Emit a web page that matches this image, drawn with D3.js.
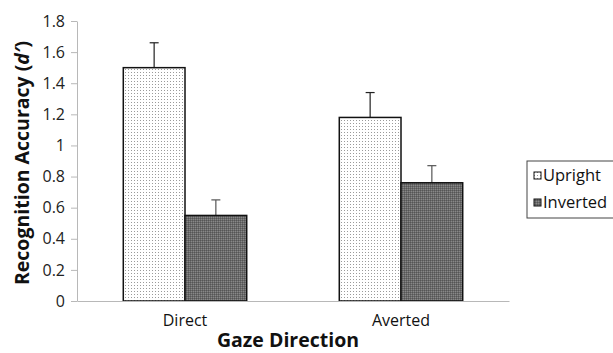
<!DOCTYPE html>
<html>
<head>
<meta charset="utf-8">
<script src="https://cdn.jsdelivr.net/npm/d3@7"></script>
<style>
  body { margin: 0; background: #fff; }
  text { font-family: "Open Sans", sans-serif; }
</style>
</head>
<body>
<svg id="bar-chart" width="613" height="353"></svg>
<script>
// data
const categories = ["Direct", "Averted"];
const seriesNames = ["Upright", "Inverted"];
const uprightValues = [1.50, 1.18];
const invertedValues = [0.55, 0.76];
const uprightErrors = [0.16, 0.16];
const invertedErrors = [0.10, 0.11];
const yTicks = [0, 0.2, 0.4, 0.6, 0.8, 1, 1.2, 1.4, 1.6, 1.8];

var svg = d3.select("svg#bar-chart");
var margin = { top: 21, right: 104, bottom: 52, left: 77 };
var width = +svg.attr("width") - margin.left - margin.right;
var height = +svg.attr("height") - margin.top - margin.bottom;

// patterns
var defs = svg.append("defs");
var pu = defs.append("pattern").attr("id", "dots-light")
    .attr("width", 3).attr("height", 3).attr("patternUnits", "userSpaceOnUse");
pu.append("rect").attr("width", 3).attr("height", 3).attr("fill", "#fff");
pu.append("rect").attr("width", 1).attr("height", 1).attr("fill", "#9a9a9a");

var pi = defs.append("pattern").attr("id", "dots-dark")
    .attr("width", 2).attr("height", 2).attr("patternUnits", "userSpaceOnUse");
pi.append("rect").attr("width", 2).attr("height", 2).attr("fill", "#6a6a6a");
pi.append("rect").attr("width", 1).attr("height", 1).attr("fill", "#888");
pi.append("rect").attr("x", 1).attr("y", 1).attr("width", 1).attr("height", 1).attr("fill", "#555");

var fills = ["url(#dots-light)", "url(#dots-dark)"];
var errColors = ["#222", "#555"];

var g = svg.append("g").attr("transform", "translate(" + margin.left + "," + margin.top + ")");

var x = d3.scaleBand().domain(categories).range([0, width]);
var inner = d3.scaleBand().domain(seriesNames).range([0, x.bandwidth()])
    .paddingInner(0).paddingOuter(0.75);
var y = d3.scaleLinear().domain([0, 1.8]).range([height, 0]);

// Y axis
var yAxis = g.append("g")
    .call(d3.axisLeft(y).tickValues(yTicks).tickSize(6).tickSizeOuter(0).tickPadding(6)
        .tickFormat(d3.format("~g")));
yAxis.select(".domain").attr("stroke", "#b8b8b8");
yAxis.selectAll(".tick line").attr("stroke", "#b8b8b8");
yAxis.selectAll(".tick text").attr("font-size", 16).attr("fill", "#222")
    .attr("font-family", "'Open Sans', sans-serif");

// rows of data
var rows = categories.map((c, i) => [
    { cat: c, s: seriesNames[0], v: uprightValues[i], e: uprightErrors[i], k: 0 },
    { cat: c, s: seriesNames[1], v: invertedValues[i], e: invertedErrors[i], k: 1 }
]).flat();

// error bars (drawn first, bar tops cover the stem base)
var eb = g.selectAll(".err").data(rows).enter().append("g").attr("class", "err")
    .attr("stroke", (d) => errColors[d.k]).attr("stroke-width", 1.2);
eb.append("line")
    .attr("x1", (d) => x(d.cat) + inner(d.s) + inner.bandwidth() / 2)
    .attr("x2", (d) => x(d.cat) + inner(d.s) + inner.bandwidth() / 2)
    .attr("y1", (d) => y(d.v))
    .attr("y2", (d) => y(d.v + d.e));
eb.append("line")
    .attr("x1", (d) => x(d.cat) + inner(d.s) + inner.bandwidth() / 2 - 4.5)
    .attr("x2", (d) => x(d.cat) + inner(d.s) + inner.bandwidth() / 2 + 4.5)
    .attr("y1", (d) => y(d.v + d.e))
    .attr("y2", (d) => y(d.v + d.e));

// bars
g.selectAll(".bar").data(rows).enter().append("rect").attr("class", "bar")
    .attr("x", (d) => x(d.cat) + inner(d.s))
    .attr("y", (d) => y(d.v))
    .attr("width", inner.bandwidth())
    .attr("height", (d) => height - y(d.v))
    .attr("fill", (d) => fills[d.k])
    .attr("stroke", "#111").attr("stroke-width", 1.5);

// X axis
var xAxis = g.append("g")
    .attr("transform", "translate(0," + height + ")")
    .call(d3.axisBottom(x).tickSize(0).tickPadding(14));
xAxis.select(".domain").attr("stroke", "#b8b8b8");
xAxis.selectAll(".tick text").attr("font-size", 16).attr("fill", "#111")
    .attr("font-family", "'Open Sans', sans-serif");

// axis titles
g.append("text")
    .attr("x", width / 2 - 5).attr("y", height + 46)
    .attr("text-anchor", "middle").attr("font-weight", "bold").attr("font-size", 19.5)
    .attr("fill", "#111")
    .text("Gaze Direction");

var yt = svg.append("text")
    .attr("transform", "translate(29," + (margin.top + height / 2 + 2) + ") rotate(-90)")
    .attr("text-anchor", "middle").attr("font-weight", "bold").attr("font-size", 19.5)
    .attr("fill", "#111");
yt.append("tspan").text("Recognition Accuracy (");
yt.append("tspan").attr("font-style", "italic").text("d\u2032");
yt.append("tspan").text(")");

// legend
var lg = svg.append("g").attr("transform", "translate(527,161)");
lg.append("rect").attr("width", 90).attr("height", 57)
    .attr("fill", "#fff").attr("stroke", "#444").attr("stroke-width", 1);
var li = lg.selectAll(".li").data(seriesNames).enter().append("g")
    .attr("transform", (d, i) => "translate(7," + (11 + i * 27) + ")");
li.append("rect").attr("width", 7).attr("height", 7)
    .attr("fill", (d, i) => fills[i]).attr("stroke", "#111").attr("stroke-width", 1);
li.append("text").attr("x", 9).attr("y", 9)
    .attr("font-size", 16.5).attr("fill", "#111")
    .text((d) => d);
</script>
</body>
</html>
